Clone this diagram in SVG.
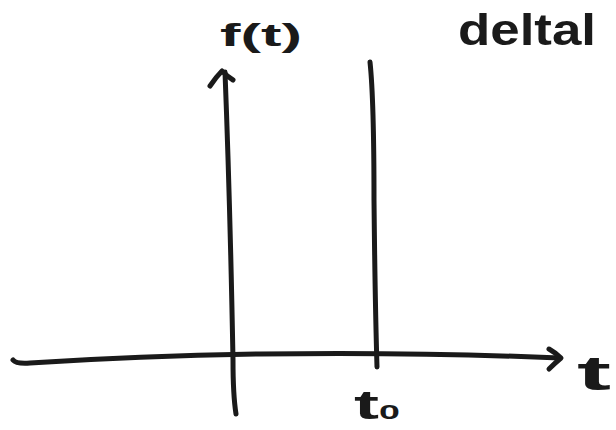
<svg xmlns="http://www.w3.org/2000/svg" width="616" height="430" viewBox="0 0 616 430">
<style>
.ink{fill:none;stroke:#1a1a1a;stroke-width:5;stroke-linecap:round;stroke-linejoin:round}
.lbl{font-family:"Liberation Sans","DejaVu Sans",sans-serif;font-weight:bold;fill:#1a1a1a}
</style>
<rect width="616" height="430" fill="#fff"/>
<g id="connectors">
<path id="t-axis" class="ink" d="M13,360 Q16,364 30,363 Q140,356 260,354 Q420,352 560,358"/>
<path id="t-arrow" class="ink" d="M549,349 Q556,353 561,358 Q555,363 549,369"/>
<path id="f-axis" class="ink" d="M236,414 Q233,395 233,360 Q230,200 225,72"/>
<path id="f-arrow" class="ink" d="M210,86 Q216,77 222,71 Q228,77 233,80"/>
<path id="delta" class="ink" d="M370,62 Q374,100 374,200 Q375,300 377,367"/>
</g>
<g id="label-ft"><text class="lbl" x="220" y="46" font-size="32" textLength="82" lengthAdjust="spacingAndGlyphs">f(t)</text></g>
<g id="label-deltal"><text class="lbl" x="458" y="45" font-size="44" textLength="138" lengthAdjust="spacingAndGlyphs">deltal</text></g>
<g id="label-t"><text class="lbl" x="577" y="390" font-size="48" textLength="34" lengthAdjust="spacingAndGlyphs">t</text></g>
<g id="label-t0"><text class="lbl" x="354" y="419" font-size="40" textLength="46" lengthAdjust="spacingAndGlyphs">t<tspan font-size="20">0</tspan></text></g>
</svg>
